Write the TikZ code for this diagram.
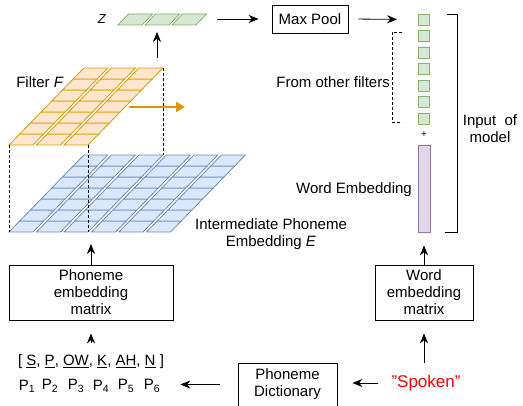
\documentclass[tikz,border=0pt]{standalone}
\usepackage{fontspec}
\setmainfont{Liberation Sans}
\usetikzlibrary{positioning,arrows.meta}
\tikzset{>=stealth}
\definecolor{filterfill}{HTML}{FFE6CC}
\definecolor{filterline}{HTML}{D79B00}
\definecolor{embfill}{HTML}{DAE8FC}
\definecolor{embline}{HTML}{6C8EBF}
\definecolor{poolfill}{HTML}{D5E8D4}
\definecolor{poolline}{HTML}{82B366}
\definecolor{wordfill}{HTML}{E1D5E7}
\definecolor{wordline}{HTML}{9673A6}

\begin{document}
\begin{tikzpicture}[x=1pt,y=-1pt,
  every node/.style={font=\fontsize{15}{17}\selectfont,inner sep=0pt},
  box/.style={draw,line width=0.8pt,align=center},
  lbl/.style={align=center},
  fcell/.style={fill=filterfill,draw=filterline,line width=0.8pt},
  ecell/.style={fill=embfill,draw=embline,line width=0.8pt},
  zcell/.style={fill=poolfill,draw=poolline,line width=0.8pt},
  gsq/.style={fill=poolfill,draw=poolline,line width=0.8pt,minimum width=11pt,minimum height=11pt},
  guide/.style={dash pattern=on 3pt off 2pt,line width=0.7pt},
  conn/.style={-{Stealth[length=10pt,width=8pt]},line width=0.8pt}]
\useasboundingbox (0,0) rectangle (523,406);

% intermediate phoneme embedding E
\foreach \i in {0,...,5}
  \foreach \j in {0,...,6}
    \draw[ecell] ({9+27.5*\i+10.7*\j},{232-11*\j}) -- ++(24,0) -- ++(10.7,-11) -- ++(-24,0) -- cycle;
% filter F
\foreach \i in {0,...,2}
  \foreach \j in {0,...,6}
    \draw[fcell] ({9+27.5*\i+10.7*\j},{145-11*\j}) -- ++(24,0) -- ++(10.7,-11) -- ++(-24,0) -- cycle;

\coordinate (fbl) at (9,145);
\coordinate (fbr) at (88,145);
\coordinate (ftr) at (163,68);
\coordinate (ebl) at (9,232);
\coordinate (ebr) at (88,232);
\coordinate (etr) at (163,155);
\draw[guide] (fbl) -- (ebl);
\draw[guide] (fbr) -- (ebr);
\draw[guide] (ftr) -- (etr);

\coordinate (slidefrom) at (129,107);
\coordinate (slideto) at (185,107);
\draw[filterline,line width=2.5pt,-{Triangle[length=9pt,width=10pt]}] (slidefrom) -- (slideto);

\node (filterlbl) at (40,82) {Filter \textit{F}};
\node[lbl] (elbl) at (271,234) {Intermediate Phoneme\\Embedding \textit{E}};

% z
\foreach \i in {0,...,2}
  \draw[zcell] ({118+27*\i},25) -- ++(24,0) -- ++(10.5,-11) -- ++(-24,0) -- cycle;
\node[font=\fontsize{13}{15}\selectfont] (zlbl) at (102,19) {\textit{Z}};
\coordinate (fup) at (157,58);
\coordinate (zin) at (157,32);
\draw[conn] (fup) -- (zin);

\node[box,minimum width=76pt,minimum height=28pt] (maxpool) at (310,19) {Max Pool};
\coordinate (zout) at (217,19);
\draw[conn,shorten >=13pt] (zout) -- (maxpool.west |- zout);

% model input
\foreach \k in {0,...,6}
  \node[gsq] (g\k) at (424,{19.5+16.5*\k}) {};
\draw[conn,shorten <=10pt,shorten >=21pt] (maxpool.east) -- (g0.west);
\node[font=\fontsize{10}{12}\selectfont] (plus) at (424,135) {+};
\node[draw=wordline,fill=wordfill,line width=0.8pt,minimum width=12pt,minimum height=87pt] (wordbar) at (424,188.5) {};

\draw[guide] (402,32) -- (392,32) -- (392,122) -- (402,122);
\node[anchor=east] (otherlbl) at (390,82) {From other filters};
\node[anchor=east] (wordlbl) at (412,190) {Word Embedding};

\coordinate (brtop) at (457,14);
\coordinate (brbot) at (457,232);
\draw[line width=0.8pt] ([xshift=-10pt]brtop) -- (brtop) -- (brbot) -- ([xshift=-12pt]brbot);
\node[lbl] (inputlbl) at (490,129) {Input\ \ of\\model};

% bottom part
\node[box,minimum width=164pt,minimum height=55pt] (phemb) at (91,292.5) {Phoneme\\embedding\\matrix};
\node[box,minimum width=98pt,minimum height=55pt] (wdemb) at (424,292.5) {Word\\embedding\\matrix};
\node[box,minimum width=99pt,minimum height=43pt] (dict) at (287.5,384.5) {Phoneme\\Dictionary};
\node[text=red,font=\fontsize{17}{20}\selectfont] (spoken) at (426,383) {"Spoken"};

\node (plist) at (91,362) {[ \underline{S}, \underline{P}, \underline{OW}, \underline{K}, \underline{AH}, \underline{N} ]};
\foreach \x/\k in {27/1,50/2,76/3,101/4,126/5,152/6}
  \node (p\k) at (\x,386) {P\textsubscript{\k}};

\draw[conn,shorten <=12pt,shorten >=13pt] (plist.north) -- (plist.north |- phemb.south);
\draw[conn,shorten >=12pt] (phemb.north) -- (phemb.north |- ebl);
\draw[conn,shorten <=12pt,shorten >=13pt] (spoken.north -| wdemb) -- (wdemb.south);
\draw[conn,shorten >=13pt] (wdemb.north) -- (wordbar.south);
\draw[conn,shorten <=13pt,shorten >=15pt] (spoken.west) -- (spoken.west -| dict.east);
\draw[conn,shorten <=18pt,shorten >=20pt] (dict.west) -- (dict.west -| p6.east);
\end{tikzpicture}
\end{document}
